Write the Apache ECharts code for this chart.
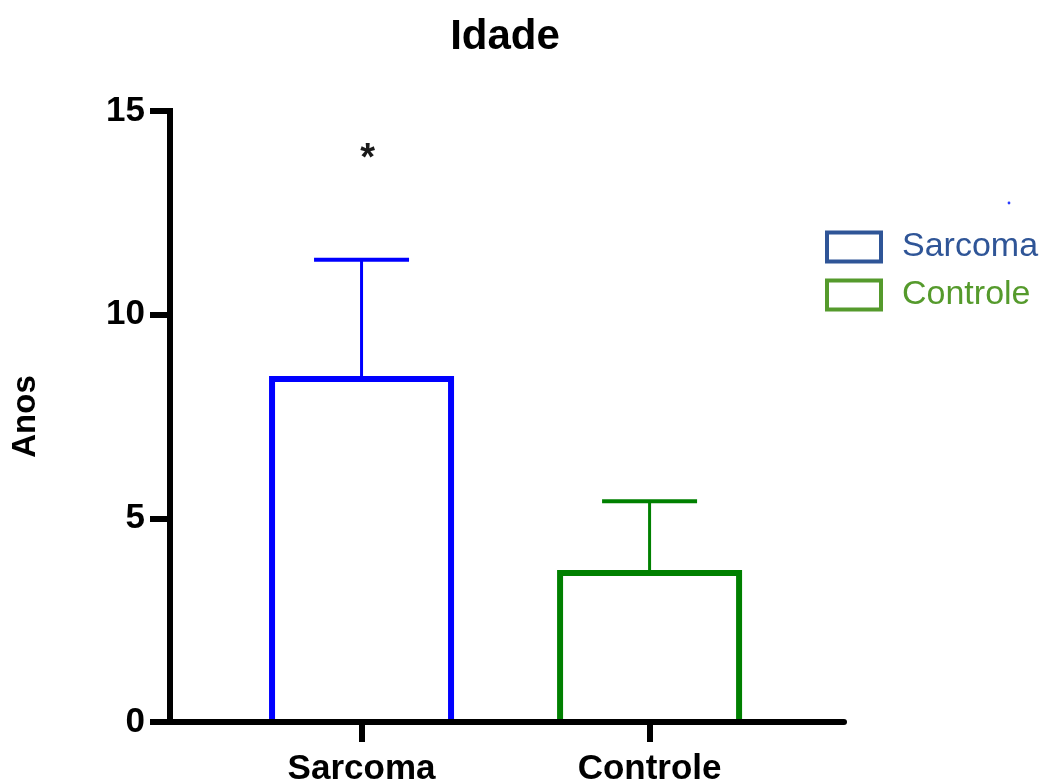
<!DOCTYPE html>
<html>
<head>
<meta charset="utf-8">
<script src="https://cdn.jsdelivr.net/npm/echarts@6/dist/echarts.min.js"></script>
<style>
html,body{margin:0;padding:0;background:#ffffff;}
#chart{width:1048px;height:783px;}
</style>
</head>
<body>
<div id="chart"></div>
<script>
// ---- data ----
const categories = ['Sarcoma', 'Controle'];
const means = [8.42, 3.66];
const upperErr = [11.35, 5.42];
const yTicks = [0, 5, 10, 15];
const sigMarks = [{ category: 0, value: 14, text: '*' }];
const titleText = 'Idade';
const yAxisName = 'Anos';

// ---- styles ----
const barColors = ['#0000ff', '#008000'];
const legendColors = ['#2f5597', '#559a2c'];
const FONT = '"Liberation Sans", Arial, Helvetica, sans-serif';
const BAR_W = 179;
const CAP_HALF = 47.5;

const chart = echarts.init(document.getElementById('chart'), null, { renderer: 'canvas' });
const catIdx = categories.map((c, i) => i);

function barRender(params, api) {
  const x = api.value(0), m = api.value(1), u = api.value(2);
  const pBase = api.coord([x, 0]);
  const pTop = api.coord([x, m]);
  const pErr = api.coord([x, u]);
  const color = api.visual('color');
  return {
    type: 'group',
    children: [
      { type: 'rect', shape: { x: pTop[0] - BAR_W / 2, y: pTop[1], width: BAR_W, height: pBase[1] - pTop[1] },
        style: { fill: 'rgba(255,255,255,0)', stroke: color, lineWidth: 6 } },
      { type: 'line', shape: { x1: pTop[0], y1: pTop[1], x2: pErr[0], y2: pErr[1] }, style: { stroke: color, lineWidth: 3 } },
      { type: 'line', shape: { x1: pErr[0] - CAP_HALF, y1: pErr[1], x2: pErr[0] + CAP_HALF, y2: pErr[1] }, style: { stroke: color, lineWidth: 4 } }
    ]
  };
}

const option = {
  backgroundColor: '#ffffff',
  animation: false,
  title: {
    text: titleText,
    left: 505,
    top: 16,
    padding: 0,
    textAlign: 'center',
    textStyle: { fontFamily: FONT, fontSize: 42, fontWeight: 'bold', color: '#000' }
  },
  legend: {
    orient: 'vertical',
    left: 825,
    top: 230,
    padding: 0,
    itemWidth: 54,
    itemHeight: 29,
    itemGap: 14,
    selectedMode: false,
    data: categories.map((n, i) => ({
      name: n,
      icon: 'rect',
      itemStyle: { color: '#ffffff', borderColor: legendColors[i], borderWidth: 4 },
      textStyle: { color: legendColors[i] }
    })),
    textStyle: { fontFamily: FONT, fontSize: 34, padding: [0, 0, 0, 16] }
  },
  grid: { left: 170, right: 204, top: 111, bottom: 61, containLabel: false, outerBoundsMode: 'none' },
  xAxis: {
    type: 'value',
    min: -0.665,
    max: 1.675,
    z: 10,
    axisLine: { show: true, onZero: false, lineStyle: { color: '#000', width: 6 } },
    axisTick: { show: true, customValues: catIdx, length: 20, inside: false, lineStyle: { color: '#000', width: 6 } },
    axisLabel: {
      show: true,
      customValues: catIdx,
      margin: 30,
      formatter: v => categories[Math.round(v)] || '',
      fontFamily: FONT, fontSize: 35, fontWeight: 'bold', color: '#000'
    },
    splitLine: { show: false }
  },
  yAxis: {
    type: 'value',
    min: yTicks[0],
    max: yTicks[yTicks.length - 1],
    interval: yTicks[1] - yTicks[0],
    z: 10,
    name: yAxisName,
    nameLocation: 'middle',
    nameRotate: 90,
    nameGap: 128,
    nameTextStyle: { fontFamily: FONT, fontSize: 33, fontWeight: 'bold', color: '#000' },
    axisLine: { show: true, onZero: false, lineStyle: { color: '#000', width: 6, cap: 'square' } },
    axisTick: { show: true, length: 20, inside: false, lineStyle: { color: '#000', width: 6 } },
    axisLabel: { margin: 25, fontFamily: FONT, fontSize: 35, fontWeight: 'bold', color: '#000' },
    splitLine: { show: false }
  },
  series: [
    ...categories.map((name, i) => ({
      name: name,
      type: 'custom',
      silent: true,
      z: 2,
      clip: false,
      encode: { x: 0, y: [1, 2] },
      itemStyle: { color: barColors[i] },
      data: [[i, means[i], upperErr[i]]],
      renderItem: barRender
    })),
    {
      type: 'custom',
      silent: true,
      z: 3,
      clip: false,
      encode: { x: 0, y: 1 },
      data: sigMarks.map(s => [s.category, s.value]),
      renderItem: function (params, api) {
        const p = api.coord([api.value(0), api.value(1)]);
        return {
          type: 'text',
          x: p[0] + 6,
          y: p[1] + 8,
          style: {
            text: sigMarks[params.dataIndex].text,
            align: 'center',
            verticalAlign: 'middle',
            font: 'bold 38px ' + FONT,
            fill: '#1a1a1a'
          }
        };
      }
    }
  ],
  graphic: [
    { type: 'circle', shape: { cx: 1009, cy: 203, r: 1.4 }, style: { fill: '#2a3cff' }, silent: true }
  ]
};

chart.setOption(option);
</script>
</body>
</html>
